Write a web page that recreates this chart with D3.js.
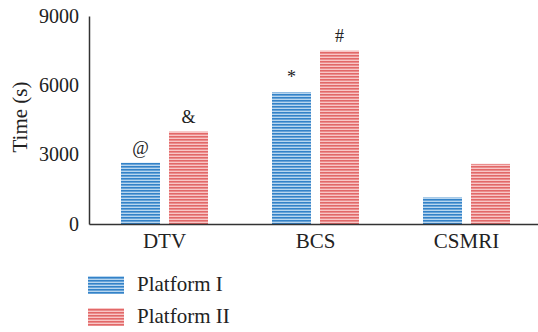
<!DOCTYPE html>
<html>
<head>
<meta charset="utf-8">
<script src="https://cdn.jsdelivr.net/npm/d3@7"></script>
<style>
  html, body { margin: 0; padding: 0; background: #fff; }
  svg { display: block; }
  svg text { font-family: "Liberation Serif", "Times New Roman", "DejaVu Serif", serif; fill: #222; }
</style>
</head>
<body>
<svg id="chart" width="538" height="332"></svg>
<script>
// Run time per platform and method
const categories = ["DTV", "BCS", "CSMRI"];
const seriesNames = ["Platform I", "Platform II"];
const platformI = [2650, 5700, 1150];
const platformII = [4000, 7500, 2600];
const markers = [["@", "&"], ["*", "#"], ["", ""]];
const yTicks = [0, 3000, 6000, 9000];

const serif = "'Liberation Serif', 'Times New Roman', 'DejaVu Serif', serif";
const svg = d3.select("#chart");
const plotLeft = 89, plotBottom = 224, plotTop = 16, plotRight = 542;

const x0 = d3.scaleBand().domain(categories).range([plotLeft, plotRight]).padding(0);
const x1 = d3.scaleBand().domain(seriesNames).range([32, 119]).paddingInner(9 / 48).paddingOuter(0);
const y = d3.scaleLinear().domain([0, 9000]).range([plotBottom, plotTop]);

// Striped fills
const defs = svg.append("defs");
const palettes = [
  { id: "stripeBlue", light: "#b8d6ef", dark: "#3382c8" },
  { id: "stripeRed", light: "#f8c6c6", dark: "#e26868" }
];
palettes.forEach(p => {
  const pat = defs.append("pattern")
    .attr("id", p.id)
    .attr("patternUnits", "userSpaceOnUse")
    .attr("width", 8).attr("height", 3);
  pat.append("rect").attr("width", 8).attr("height", 3).attr("fill", p.light);
  pat.append("rect").attr("y", 1).attr("width", 8).attr("height", 1.6).attr("fill", p.dark);
});
const fills = ["url(#stripeBlue)", "url(#stripeRed)"];

const rows = categories.map((c, i) => ({
  cat: c,
  values: [platformI[i], platformII[i]],
  marks: markers[i]
}));

// Bars
const groups = svg.append("g").selectAll("g").data(rows).join("g")
  .attr("transform", d => `translate(${x0(d.cat)},0)`);

groups.selectAll("rect").data(d => d.values.map((v, j) => ({ v, j, s: seriesNames[j] })))
  .join("rect")
  .attr("x", d => x1(d.s))
  .attr("y", d => y(d.v))
  .attr("width", x1.bandwidth())
  .attr("height", d => y(0) - y(d.v))
  .attr("fill", d => fills[d.j]);

// Significance markers
groups.selectAll("text.mark").data(d => d.values.map((v, j) => ({ v, j, s: seriesNames[j], m: d.marks[j] })))
  .join("text")
  .attr("class", "mark")
  .attr("x", d => x1(d.s) + x1.bandwidth() / 2)
  .attr("y", d => y(d.v) - 9)
  .attr("text-anchor", "middle")
  .style("font-family", serif)
  .style("font-size", "18px")
  .text(d => d.m);

// Y axis
const yAxis = d3.axisLeft(y).tickValues(yTicks).tickSize(0).tickPadding(10).tickFormat(d3.format("d"));
const gy = svg.append("g").attr("transform", `translate(${plotLeft},0)`).call(yAxis);
gy.attr("font-family", serif);
gy.select(".domain").attr("stroke", "#333").attr("stroke-width", 1.5);
gy.selectAll("text").style("font-family", serif).style("font-size", "20px").attr("dy", "0.3em").attr("fill", "#222");

// X axis
const xAxis = d3.axisBottom(x0).tickSize(0).tickPadding(0);
const gx = svg.append("g").attr("transform", `translate(0,${plotBottom})`).call(xAxis);
gx.attr("font-family", serif);
gx.select(".domain").attr("stroke", "#333").attr("stroke-width", 1.5);
gx.selectAll("text").style("font-family", serif).style("font-size", "21px").attr("dy", null).attr("y", 24).attr("fill", "#222");

// Y axis title
svg.append("text")
  .attr("transform", `translate(27,117) rotate(-90)`)
  .attr("text-anchor", "middle")
  .style("font-family", serif)
  .style("font-size", "21px")
  .text("Time (s)");

// Legend
const legend = svg.append("g").selectAll("g").data(seriesNames).join("g")
  .attr("transform", (d, i) => `translate(88,${276 + i * 32})`);
legend.append("rect").attr("width", 36).attr("height", 18).attr("fill", (d, i) => fills[i]);
legend.append("text").attr("x", 49).attr("y", 15)
  .style("font-family", serif).style("font-size", "21px").text(d => d);
</script>
</body>
</html>
